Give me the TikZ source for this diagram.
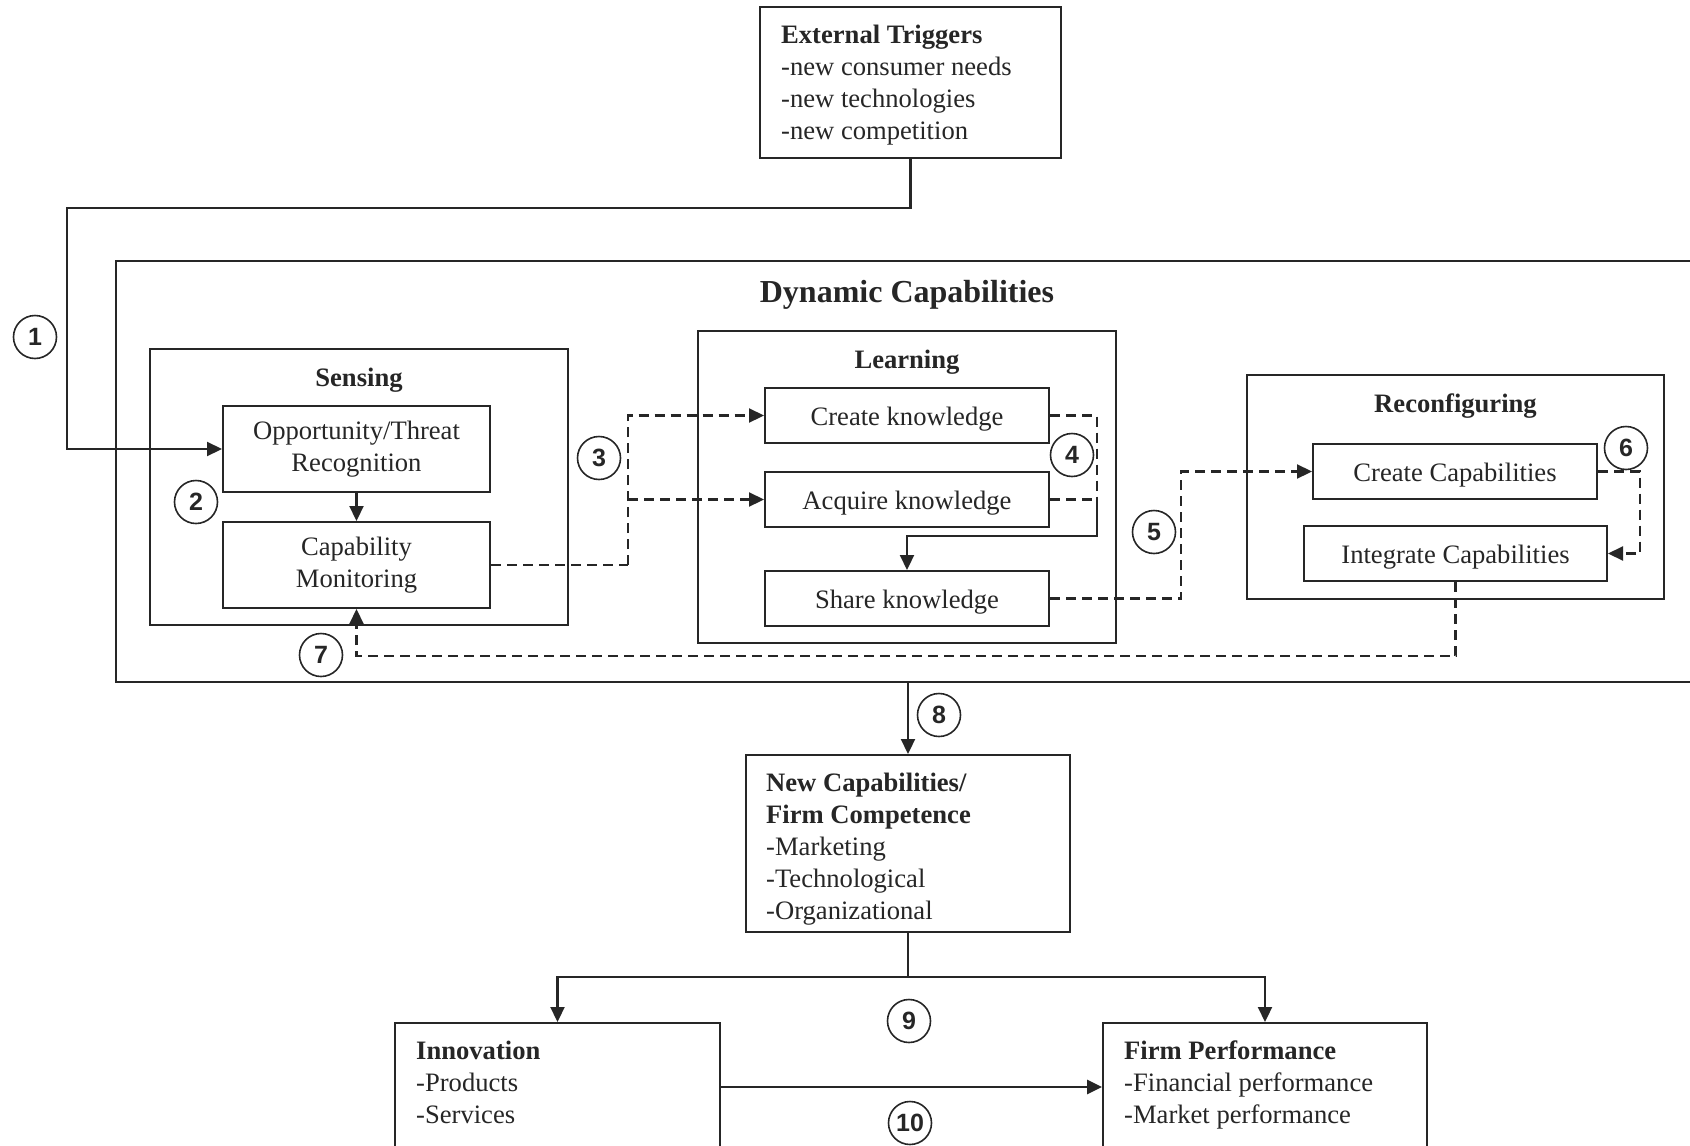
\documentclass[tikz,border=0pt]{standalone}
\usepackage{fontspec}
\setmainfont{Liberation Serif}
\newfontfamily\circfont{Liberation Sans}
\usetikzlibrary{arrows.meta,calc}
\definecolor{ink}{HTML}{262626}
\newcommand{\dcbody}{\fontsize{26.6pt}{32pt}\selectfont}
\newcommand{\dctitle}{\fontsize{32pt}{38pt}\selectfont\bfseries}
\newcommand{\dcnum}{\circfont\bfseries\fontsize{25pt}{30pt}\selectfont}

\begin{document}
\begin{tikzpicture}[x=1pt,y=-1pt,
  box/.style={draw=ink, line width=2pt, rectangle, inner sep=0pt, font=\dcbody, text=ink},
  onebox/.style={box, text height=22pt, text depth=3pt},
  twobox/.style={box, align=center},
  txt/.style={inner sep=0pt, align=left, font=\dcbody, text=ink},
  ttl/.style={inner sep=0pt, font=\dcbody\bfseries, text=ink, anchor=base},
  num/.style={circle, draw=ink, line width=1.6pt, minimum size=43pt, inner sep=0pt, font=\dcnum, text=ink},
  link/.style={draw=ink, line width=2.2pt},
  arr/.style={link, -{Triangle[length=15pt,width=14pt]}},
  dlink/.style={draw=ink, line width=2.2pt, dash pattern=on 10pt off 6pt},
  darr/.style={dlink, -{Triangle[length=15pt,width=14pt]}}
]
\useasboundingbox (0,0) rectangle (1690,1146);
\fill[white] (0,0) rectangle (1690,1146);
\clip (0,0) rectangle (1690,1146);

% ---- trigger box (text nodes are placed by the baseline of their last line) ----
\node[box, minimum width=301pt, minimum height=151pt] (et) at (910.5,82.5) {};
\node[txt, anchor=base west] (ettext) at (781,139)
  {\textbf{External Triggers}\\-new consumer needs\\-new technologies\\-new competition};

% ---- dynamic capabilities frame ----
\node[box, minimum width=1604pt, minimum height=421pt] (dc) at (918,471.5) {};
\node[inner sep=0pt, font=\dctitle, text=ink, anchor=base] (dctitle) at (907,302) {Dynamic Capabilities};

% sensing
\node[box, minimum width=418pt, minimum height=276pt] (sens) at (359,487) {};
\node[ttl] (senst) at (359,386) {Sensing};
\node[twobox, minimum width=267pt, minimum height=86pt] (opp) at (356.5,449) {Opportunity/Threat\\Recognition};
\node[twobox, minimum width=267pt, minimum height=86pt] (capmon) at (356.5,565) {Capability\\Monitoring};

% learning
\node[box, minimum width=418pt, minimum height=312pt] (learn) at (907,487) {};
\node[ttl] (learnt) at (907,368) {Learning};
\node[onebox, minimum width=284pt, minimum height=55pt] (createk) at (907,415.5) {Create knowledge};
\node[onebox, minimum width=284pt, minimum height=55pt] (acqk) at (907,499.5) {Acquire knowledge};
\node[onebox, minimum width=284pt, minimum height=55pt] (sharek) at (907,598.5) {Share knowledge};

% reconfiguring
\node[box, minimum width=417pt, minimum height=224pt] (reconf) at (1455.5,487) {};
\node[ttl] (reconft) at (1455.5,412) {Reconfiguring};
\node[onebox, minimum width=284pt, minimum height=55pt] (createc) at (1455,471.5) {Create Capabilities};
\node[onebox, minimum width=303pt, minimum height=55pt] (integc) at (1455.5,553.5) {Integrate Capabilities};

% ---- outcomes ----
\node[box, minimum width=324pt, minimum height=177pt] (nc) at (908,843.5) {};
\node[txt, anchor=base west] (nctext) at (766,919)
  {\textbf{New Capabilities/}\\\textbf{Firm Competence}\\-Marketing\\-Technological\\-Organizational};
\node[box, minimum width=325pt, minimum height=157pt] (innov) at (557.5,1101.5) {};
\node[txt, anchor=base west] (innovtext) at (416,1123)
  {\textbf{Innovation}\\-Products\\-Services};
\node[box, minimum width=324pt, minimum height=157pt] (fp) at (1265,1101.5) {};
\node[txt, anchor=base west] (fptext) at (1124,1123)
  {\textbf{Firm Performance}\\-Financial performance\\-Market performance};

% ---- routing points ----
\coordinate (c1) at (67,208);
\coordinate (c3) at (628,565);
\coordinate (c4) at (1097,499.5);
\coordinate (k4) at (1097,536);
\coordinate (c5) at (1181,0);
\coordinate (c6) at (1640,0);
\coordinate (c7) at (0,656);
\coordinate (c9) at (0,977);
\coordinate (c10) at (0,1087);

% ---- connectors ----
\draw[arr] (et.south) |- (c1) |- (opp.west);
\draw[arr] (opp.south) -- (capmon.north);

\draw[dlink] (capmon.east) -- (c3);
\draw[darr] (c3) |- (createk.west);
\draw[darr] (c3 |- acqk.west) -- (acqk.west);

\draw[dlink] (createk.east) -| (c4);
\draw[dlink] (acqk.east) -- (c4);
\draw[arr] (c4) -- (k4) -| (sharek.north);

\draw[darr] (sharek.east) -- (sharek.east -| c5) |- (createc.west);
\draw[darr] (createc.east) -- (createc.east -| c6) -- (integc.east -| c6) -- (integc.east);
\draw[darr] (integc.south) -- (integc.south |- c7) -- (capmon.south |- c7) -- (capmon.south);

\draw[arr] (nc.north |- dc.south) -- (nc.north);
\draw[arr] (nc.south) -- (nc.south |- c9) -| (innov.north);
\draw[arr] (nc.south |- c9) -| (fp.north);
\draw[arr, line width=2.8pt] (innov.east |- c10) -- (fp.west |- c10);

% ---- step numbers ----
\node[num] (n1) at (35,337) {1};
\node[num] (n2) at (196,502) {2};
\node[num] (n3) at (599,458) {3};
\node[num] (n4) at (1072,455) {4};
\node[num] (n5) at (1154,532) {5};
\node[num] (n6) at (1626,448) {6};
\node[num] (n7) at (321,655) {7};
\node[num] (n8) at (939,715) {8};
\node[num] (n9) at (909,1021) {9};
\node[num] (n10) at (910,1123) {10};
\end{tikzpicture}
\end{document}
